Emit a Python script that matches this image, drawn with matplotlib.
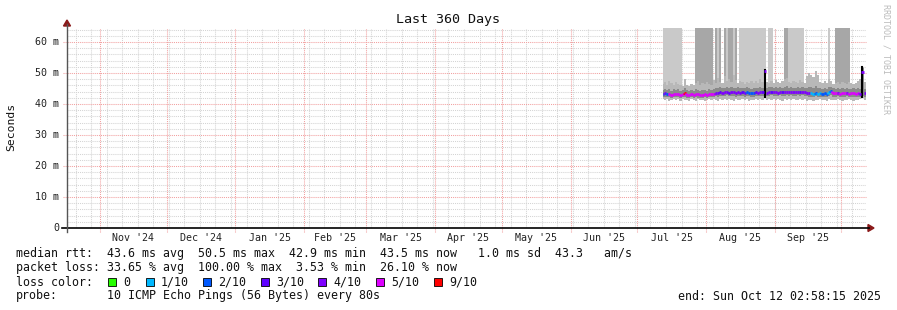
import numpy as np
import pandas as pd
import matplotlib
matplotlib.use("Agg")
import matplotlib.pyplot as plt
import matplotlib.dates as mdates
from matplotlib.collections import LineCollection
from matplotlib.lines import Line2D
from matplotlib.patches import Polygon, Rectangle
from datetime import datetime

# ---------------- data ----------------
range_start = datetime(2024, 10, 17, 2, 58, 15)
range_end = datetime(2025, 10, 12, 2, 58, 15)
day_dates = pd.date_range("2025-07-12", periods=93, freq="D")

median_ms = [
    43.2, 43.4, 43.1, 43.3, 43.0, 43.2, 43.1, 43.3, 43.0, 43.2,
    43.6, 43.0, 42.9, 43.1, 43.0, 43.2, 43.1, 42.9, 43.0, 43.1,
    43.0, 43.2, 43.1, 43.3, 43.6, 43.5, 43.8, 43.6, 43.7, 43.9,
    43.6, 43.8, 43.7, 43.5, 43.8, 43.6, 43.7, 43.5, 43.8, 43.6,
    43.4, 43.5, 43.7, 43.6, 43.8, 43.7, 50.5, 43.6, 43.8, 43.9,
    43.7, 43.8, 43.6, 43.9, 43.7, 43.8, 44.0, 43.7, 43.9, 43.8,
    43.7, 44.0, 43.8, 43.9, 43.7, 43.6, 43.5, 43.4, 43.2, 43.6,
    43.3, 43.5, 43.2, 43.4, 43.3, 43.8, 44.1, 43.5, 43.4, 43.6,
    43.3, 43.5, 43.4, 43.6, 43.2, 43.4, 43.5, 43.3, 43.4, 43.2,
    50.2, 43.4, 43.5]

loss_count = [
    2, 4, 2, 5, 5, 5, 5, 5, 5, 5,
    9, 5, 5, 5, 5, 5, 5, 5, 5, 5,
    5, 5, 5, 5, 4, 4, 3, 4, 4, 4,
    3, 4, 4, 4, 4, 4, 3, 4, 2, 2,
    2, 2, 3, 4, 4, 3, 4, 4, 4, 3,
    4, 4, 4, 4, 3, 4, 4, 4, 4, 4,
    4, 4, 3, 4, 4, 4, 4, 1, 1, 2,
    1, 1, 2, 2, 2, 1, 2, 5, 5, 4,
    5, 5, 5, 4, 5, 5, 5, 5, 5, 4,
    4, 4, 4]

smoke_hi = [
    46.5, 47.0, 46.2, 47.5, 46.8, 46.0, 47.2, 46.5, 46.0, 45.8,
    48.0, 46.2, 45.9, 46.4, 46.0, 46.8, 47.5, 46.2, 46.9, 46.3,
    47.0, 46.5, 46.1, 47.8, 46.9, 48.5, 47.2, 46.8, 49.0, 47.5,
    48.2, 47.0, 49.5, 47.8, 46.9, 47.4, 47.0, 46.6, 47.2, 46.8,
    47.5, 46.9, 47.3, 46.7, 48.0, 47.2, 51.0, 47.0, 46.8, 47.4,
    46.9, 47.6, 47.1, 46.8, 47.3, 47.9, 48.3, 47.0, 46.9, 47.5,
    47.2, 46.8, 47.6, 47.0, 46.9, 49.0, 50.0, 49.5, 48.8, 50.5,
    49.2, 47.0, 46.8, 47.3, 46.9, 48.0, 47.5, 46.6, 46.9, 47.2,
    46.5, 47.0, 46.8, 46.4, 47.1, 46.7, 46.3, 46.9, 47.4, 48.0,
    52.0, 47.0, 46.5]

smoke_lo = [
    41.5, 41.2, 41.6, 41.0, 41.4, 41.7, 41.3, 41.5, 41.1, 41.6,
    41.2, 41.4, 41.0, 41.5, 41.3, 41.1, 41.6, 41.2, 41.4, 41.0,
    41.3, 41.5, 41.2, 41.6, 41.4, 41.1, 41.5, 41.3, 41.7, 41.2,
    41.5, 41.3, 41.0, 41.6, 41.4, 41.2, 41.5, 41.3, 41.6, 41.1,
    41.4, 41.2, 41.5, 41.3, 41.6, 41.2, 41.8, 41.4, 41.5, 41.3,
    41.6, 41.2, 41.5, 41.4, 41.1, 41.6, 41.3, 41.5, 41.2, 41.7,
    41.4, 41.3, 41.6, 41.2, 41.5, 41.0, 41.3, 41.2, 41.1, 41.4,
    41.3, 41.5, 41.2, 41.4, 41.0, 41.5, 41.3, 41.4, 41.2, 41.5,
    41.3, 41.1, 41.4, 41.2, 41.5, 41.3, 41.0, 41.4, 41.2, 41.5,
    41.8, 41.3, 41.4]

smoke_inner_hi = [
    44.6, 44.9, 44.4, 44.8, 44.3, 44.7, 44.5, 44.9, 44.3, 44.6,
    45.3, 44.4, 44.2, 44.6, 44.3, 44.7, 44.5, 44.2, 44.4, 44.6,
    44.3, 44.7, 44.5, 44.8, 45.2, 45.0, 45.5, 45.1, 45.3, 45.6,
    45.1, 45.4, 45.3, 45.0, 45.4, 45.1, 45.2, 45.0, 45.4, 45.1,
    44.9, 45.0, 45.3, 45.1, 45.4, 45.3, 50.8, 45.1, 45.4, 45.5,
    45.2, 45.4, 45.1, 45.5, 45.2, 45.4, 45.7, 45.2, 45.5, 45.3,
    45.2, 45.6, 45.3, 45.5, 45.2, 45.3, 45.6, 45.4, 45.2, 45.8,
    45.3, 45.0, 44.7, 45.0, 44.8, 45.4, 45.6, 45.0, 44.9, 45.2,
    44.8, 45.0, 44.9, 45.2, 44.7, 44.9, 45.0, 44.8, 45.0, 44.7,
    51.5, 44.9, 45.0]

smoke_inner_lo = [
    42.2, 42.3, 42.1, 42.2, 42.0, 42.1, 42.1, 42.2, 41.9, 42.2,
    42.4, 42.0, 41.9, 42.1, 42.0, 42.1, 42.0, 41.9, 42.0, 42.1,
    42.0, 42.1, 42.1, 42.2, 42.5, 42.4, 42.7, 42.5, 42.6, 42.8,
    42.5, 42.7, 42.6, 42.4, 42.7, 42.5, 42.6, 42.4, 42.7, 42.5,
    42.3, 42.4, 42.6, 42.5, 42.7, 42.6, 42.9, 42.5, 42.7, 42.8,
    42.6, 42.7, 42.5, 42.8, 42.6, 42.7, 42.9, 42.6, 42.8, 42.7,
    42.6, 42.9, 42.7, 42.8, 42.6, 42.5, 42.4, 42.3, 42.1, 42.5,
    42.2, 42.4, 42.1, 42.3, 42.2, 42.7, 43.0, 42.4, 42.3, 42.5,
    42.2, 42.4, 42.3, 42.5, 42.1, 42.3, 42.4, 42.2, 42.3, 42.1,
    42.6, 42.3, 42.4]

# 0 = none, 1 = light loss band, 2 = dark loss band
loss_band = [
    1, 1, 1, 1, 1, 1, 1, 1, 1, 0,
    0, 0, 0, 0, 0, 2, 2, 2, 2, 2,
    2, 2, 2, 0, 2, 1, 2, 0, 2, 1,
    2, 2, 1, 2, 0, 1, 1, 1, 1, 1,
    1, 1, 1, 1, 1, 1, 1, 0, 1, 1,
    0, 0, 0, 0, 0, 2, 2, 1, 1, 1,
    1, 1, 1, 1, 0, 0, 0, 0, 0, 0,
    0, 0, 0, 0, 0, 1, 0, 0, 2, 2,
    2, 2, 2, 2, 2, 0, 0, 0, 0, 0,
    0, 0, 0]

y_ticks_ms = [0, 10, 20, 30, 40, 50, 60]
y_tick_labels = ["0", "10 m", "20 m", "30 m", "40 m", "50 m", "60 m"]
loss_legend_labels = ["0", "1/10", "2/10", "3/10", "4/10", "5/10", "9/10"]
loss_legend_colors = ["#26ff00", "#00b8ff", "#0059ff", "#5e00ff", "#7e00ff", "#dd00ff", "#ff0000"]

title = "Last 360 Days"
ylabel = "Seconds"
line_rtt = "median rtt:  43.6 ms avg  50.5 ms max  42.9 ms min  43.5 ms now   1.0 ms sd  43.3   am/s"
line_loss = "packet loss: 33.65 % avg  100.00 % max  3.53 % min  26.10 % now"
probe_text = "10 ICMP Echo Pings (56 Bytes) every 80s"
end_text = "end: Sun Oct 12 02:58:15 2025"
watermark = "RRDTOOL / TOBI OETIKER"

# ---------------- figure ----------------
W, H = 897, 310
fig = plt.figure(figsize=(W / 100, H / 100), dpi=100)
fig.patch.set_facecolor("white")
MONO = "DejaVu Sans Mono"

def P(x, y):
    return (x / W, 1 - y / H)

ax_left, ax_right, ax_bottom, ax_top = 67, 866, 228, 28
ax = fig.add_axes([ax_left / W, 1 - ax_bottom / H, (ax_right - ax_left) / W, (ax_bottom - ax_top) / H])
ax.set_facecolor("white")
for s in ax.spines.values():
    s.set_visible(False)
ax.set_xticks([])
ax.set_yticks([])

x0 = mdates.date2num(range_start)
x1 = mdates.date2num(range_end)
YMAX = 64.5
ax.set_xlim(x0, x1)
ax.set_ylim(0, YMAX)

ms_per_px = YMAX / (ax_bottom - ax_top)
dotted = (0, (1, 1))

# minor grid
for yv in np.arange(2, YMAX, 2):
    if yv % 10 != 0:
        ax.plot([x0, x1], [yv, yv], color="#d4d4d4", lw=0.75, ls=dotted, zorder=0.5)
weeks = pd.date_range(range_start, range_end, freq="W-MON")
for wd in weeks:
    xv = mdates.date2num(wd.normalize())
    if x0 < xv < x1:
        ax.plot([xv, xv], [0, YMAX], color="#d4d4d4", lw=0.75, ls=dotted, zorder=0.5)
# major grid
day_px = (x1 - x0) / (ax_right - ax_left)
for yv in y_ticks_ms[1:]:
    ax.plot([x0 - 4 * day_px, x1], [yv, yv], color="#f2a0a0", lw=0.75, ls=dotted, zorder=0.6, clip_on=False)
months = pd.date_range("2024-11-01", "2025-10-01", freq="MS")
for md in months:
    xv = mdates.date2num(md)
    ax.plot([xv, xv], [-4 * ms_per_px, YMAX], color="#f2a0a0", lw=0.75, ls=dotted, zorder=0.6, clip_on=False)

# data x edges
xd = mdates.date2num(day_dates.to_pydatetime())
xe = np.append(xd, x1)
xe[0] = xd[0] + 0.6

def ext(v):
    return np.append(np.asarray(v, float), v[-1])

# loss bands
band_colors = {1: "#c9c9c9", 2: "#a7a7a7"}
for i, b in enumerate(loss_band):
    if b:
        ax.add_patch(Rectangle((xe[i], smoke_inner_hi[i]), xe[i + 1] - xe[i], YMAX - smoke_inner_hi[i],
                               facecolor=band_colors[b], edgecolor="none", zorder=1))

# smoke
ax.fill_between(xe, ext(smoke_lo), ext(smoke_hi), step="post", color="#b8b8b8", lw=0, zorder=2)
ax.fill_between(xe, ext(smoke_inner_lo), ext(smoke_inner_hi), step="post", color="#8a8a8a", lw=0, zorder=3)

# spikes (dense smoke where median jumps)
med = np.asarray(median_ms)
for i in range(len(med)):
    if med[i] > 48:
        xm = (xe[i] + xe[i + 1]) / 2
        ax.plot([xm, xm], [smoke_lo[i] + 0.5, smoke_hi[i]], color="black", lw=1.5, zorder=4)

# median colored by loss
def loss_color(c):
    if c >= 9:
        return loss_legend_colors[6]
    if c >= 5:
        return loss_legend_colors[5]
    return loss_legend_colors[c]

segs, cols = [], []
for i in range(len(med)):
    segs.append([(xe[i], med[i]), (xe[i + 1], med[i])])
    cols.append(loss_color(loss_count[i]))
    if i + 1 < len(med) and abs(med[i + 1] - med[i]) < 2:
        segs.append([(xe[i + 1], med[i]), (xe[i + 1], med[i + 1])])
        cols.append(loss_color(loss_count[i + 1]))
ax.add_collection(LineCollection(segs, colors=cols, linewidths=2.0, zorder=5, capstyle="butt"))

# axes lines and arrows
fig.add_artist(Line2D([62 / W, 869 / W], [1 - 228 / H] * 2, color="black", lw=1.2))
fig.add_artist(Line2D([67 / W] * 2, [1 - 232 / H, 1 - 24 / H], color="#555555", lw=1.0))
fig.add_artist(Polygon([P(868, 224.5), P(874, 228), P(868, 231.5)], closed=True, color="#8b1a1a"))
fig.add_artist(Polygon([P(63.5, 26), P(67, 20), P(70.5, 26)], closed=True, color="#8b1a1a"))

# y tick labels
for yv, lab in zip(y_ticks_ms, y_tick_labels):
    ypx = ax_bottom - yv / ms_per_px
    fig.text(59 / W, 1 - ypx / H, lab, ha="right", va="center", fontsize=7.2, family=MONO, color="#222222")

# x tick labels: centered in each month
for m0, m1 in zip(months[:-1], months[1:]):
    xm = (mdates.date2num(m0) + mdates.date2num(m1)) / 2
    xpx = ax_left + (xm - x0) / day_px
    fig.text(xpx / W, 1 - 238 / H, m0.strftime("%b '%y"), ha="center", va="center",
             fontsize=7.2, family=MONO, color="#222222")

# title, ylabel, watermark
fig.text(448 / W, 1 - 19 / H, title, ha="center", va="center", fontsize=9.6, family=MONO, color="#111111")
fig.text(11 / W, 1 - 127 / H, ylabel, ha="center", va="center", rotation=90, fontsize=8.2, family=MONO, color="#111111")
fig.text(886 / W, 1 - 59 / H, watermark, ha="center", va="center", rotation=270, fontsize=6.0, family=MONO, color="#bbbbbb")

# legend lines
fs = 8.4
fig.text(16 / W, 1 - 254 / H, line_rtt, ha="left", va="center", fontsize=fs, family=MONO, color="#111111")
fig.text(16 / W, 1 - 268 / H, line_loss, ha="left", va="center", fontsize=fs, family=MONO, color="#111111")
fig.text(16 / W, 1 - 282 / H, "loss color:", ha="left", va="center", fontsize=fs, family=MONO, color="#111111")
box_x = [108, 146, 203, 261, 318, 376, 434]
for bx, lab, col in zip(box_x, loss_legend_labels, loss_legend_colors):
    fig.add_artist(Rectangle(P(bx, 286), 8 / W, 8 / H, facecolor=col, edgecolor="black", lw=0.6))
    fig.text((bx + 15) / W, 1 - 282 / H, lab, ha="left", va="center", fontsize=fs, family=MONO, color="#111111")
fig.text(16 / W, 1 - 296 / H, "probe:", ha="left", va="center", fontsize=fs, family=MONO, color="#111111")
fig.text(107 / W, 1 - 296 / H, probe_text, ha="left", va="center", fontsize=fs, family=MONO, color="#111111")
fig.text(881 / W, 1 - 296 / H, end_text, ha="right", va="center", fontsize=fs, family=MONO, color="#111111")

fig.savefig("out.png", dpi=100, facecolor="white")
